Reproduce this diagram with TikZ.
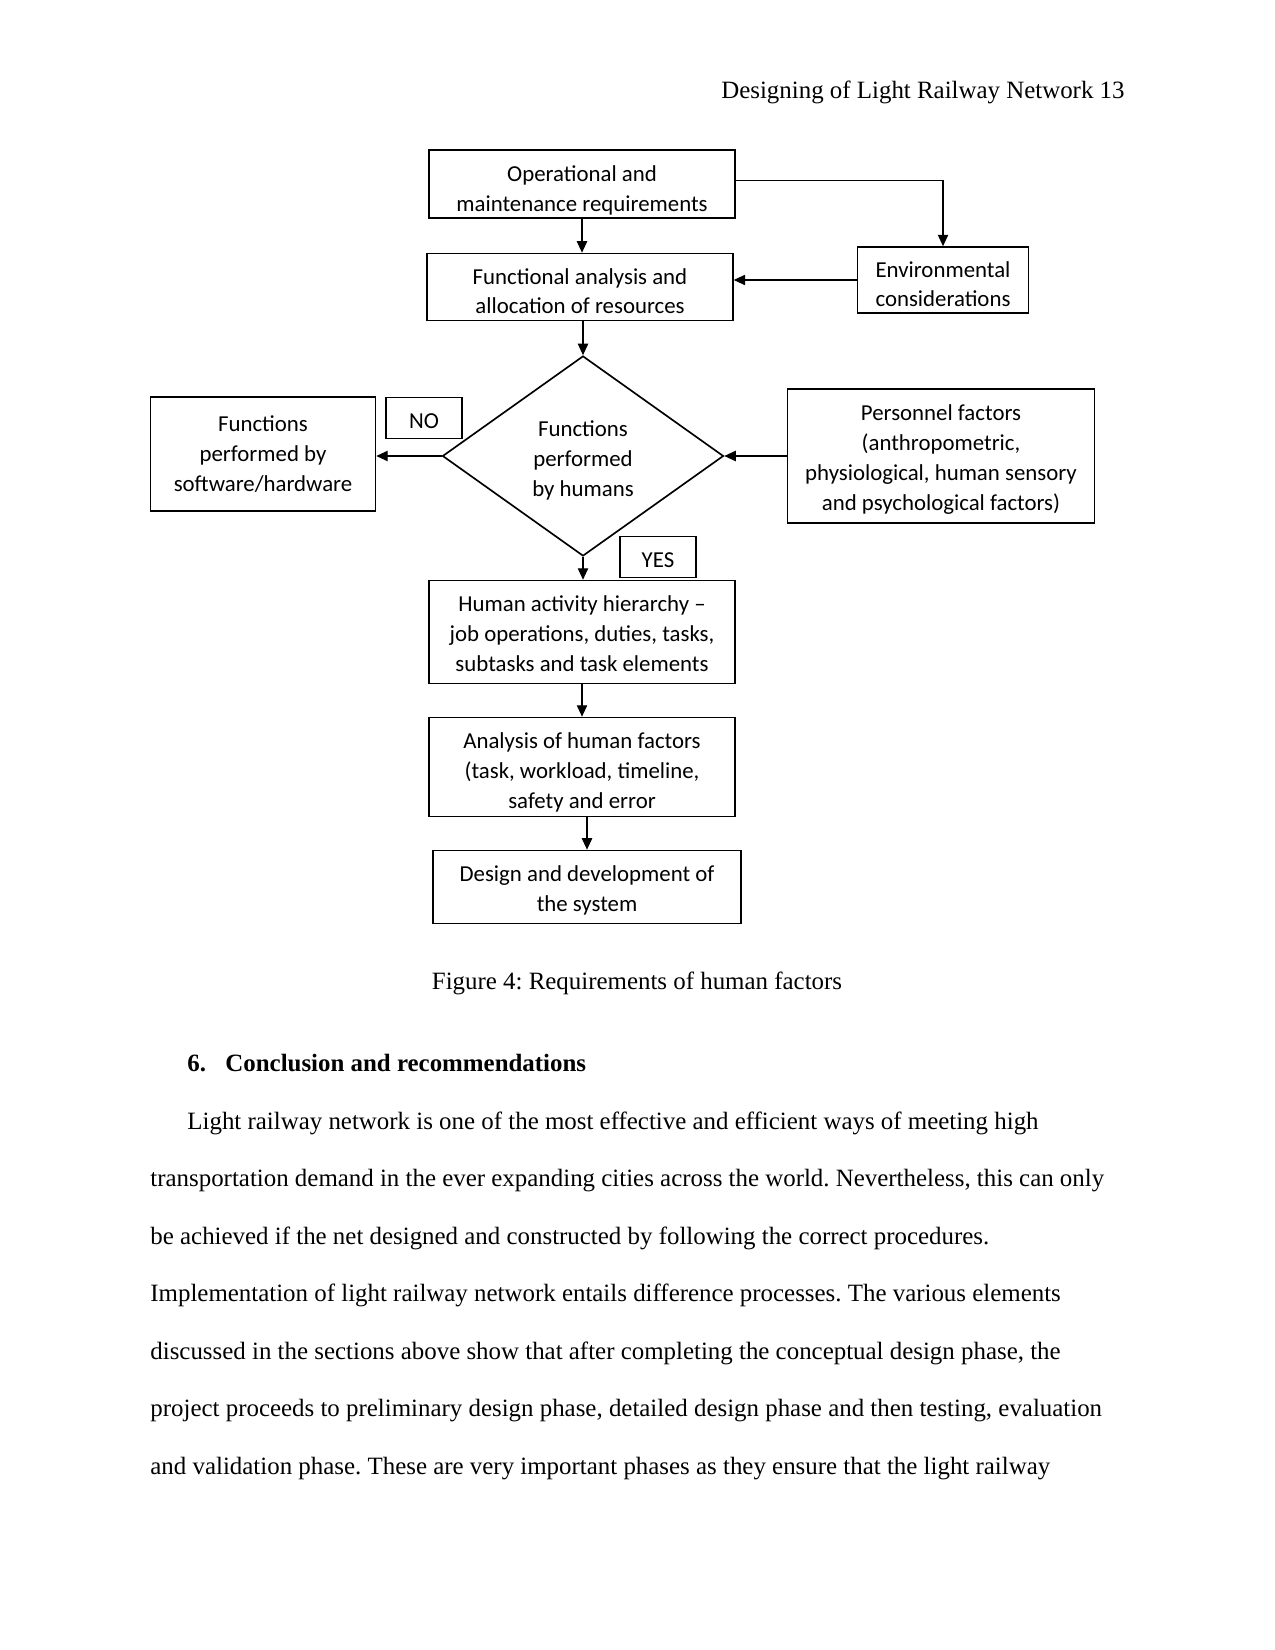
\documentclass[tikz,border=0pt]{standalone}
\usepackage{fontspec}
\setmainfont{Liberation Serif}
\newfontfamily\diagfont{Carlito}
\frenchspacing
\usetikzlibrary{shapes.geometric,arrows.meta}
\begin{document}
\begin{tikzpicture}[x=0.48183pt,y=-0.48183pt,
  box/.style={draw,line width=0.8pt,inner sep=0pt},
  bt/.style={align=center,inner sep=0pt,font=\diagfont\fontsize{11}{14.4}\selectfont},
  lbl/.style={draw,line width=0.8pt,inner sep=0pt,minimum width=36.6pt,minimum height=19.8pt},
  arr/.style={line width=0.5pt,-{Triangle[length=5.5pt,width=5pt]}},
  body/.style={anchor=base west,inner sep=0pt,font=\fontsize{12}{14}\selectfont}]
\useasboundingbox (0,0) rectangle (1275,1650);
\fill[white] (0,0) rectangle (1275,1650);
% header
\node[anchor=base east,inner sep=0pt,font=\fontsize{12}{14}\selectfont] (hdr) at (1125,99) {Designing of Light Railway Network 13};
% diagram
\node[box,minimum width=147.4pt,minimum height=32.8pt,label={[bt,yshift=-3pt]center:{Operational and\\maintenance requirements}}] (ops) at (582,184) {};
\node[box,minimum width=147.4pt,minimum height=32.3pt,label={[bt,yshift=-2pt]center:{Functional analysis and\\allocation of resources}}] (fun) at (580,287) {};
\node[box,minimum width=82.4pt,minimum height=31.8pt,label={[bt,yshift=-2pt]center:{Environmental\\considerations}}] (env) at (943,280) {};
\node[draw,line width=0.8pt,diamond,aspect=1.4,inner sep=0pt,minimum width=135.4pt,minimum height=96.4pt,label={[bt,yshift=-2pt]center:{Functions\\performed\\by humans}}] (dia) at (583,456) {};
\node[box,minimum width=108.4pt,minimum height=54.9pt,label={[bt]center:{Functions\\performed by\\software/hardware}}] (sw) at (263,454) {};
\node[lbl,label={[bt,yshift=-1.5pt]center:NO}] (no) at (424,418) {};
\node[box,minimum width=147.9pt,minimum height=64.6pt,label={[bt,yshift=-1.8pt]center:{Personnel factors\\(anthropometric,\\physiological, human sensory\\and psychological factors)}}] (pers) at (941,456) {};
\node[lbl,label={[bt,yshift=-1.5pt]center:YES}] (yes) at (658,557) {};
\node[box,minimum width=147.4pt,minimum height=49.6pt,label={[bt,yshift=-0.8pt]center:{Human activity hierarchy \textendash\\job operations, duties, tasks,\\subtasks and task elements}}] (hum) at (582,632) {};
\node[box,minimum width=147.4pt,minimum height=47.7pt,label={[bt,yshift=-2.5pt]center:{Analysis of human factors\\(task, workload, timeline,\\safety and error}}] (ana) at (582,767) {};
\node[box,minimum width=148.4pt,minimum height=35.2pt,label={[bt,yshift=-1.8pt]center:{Design and development of\\the system}}] (des) at (587,887) {};
% connectors
\draw[arr] (ops.south) -- (ops.south |- fun.north);
\draw[arr] ([yshift=1.5pt]ops.east) -| (env.north);
\draw[arr] (env.west) -- (env.west -| fun.east);
\draw[arr] (dia.north |- fun.south) -- (dia.north);
\draw[arr] (pers.west) -- (dia.east);
\draw[arr] (dia.west) -- (dia.west -| sw.east);
\draw[arr] (dia.south) -- (dia.south |- hum.north);
\draw[arr] (hum) -- (ana);
\draw[arr] (des.north |- ana.south) -- (des.north);
% caption and text
\node[anchor=base,inner sep=0pt,font=\fontsize{12}{14}\selectfont] (cap) at (637,989) {Figure 4: Requirements of human factors};
\node[body,font=\bfseries\fontsize{12}{14}\selectfont] (secn) at (187,1071) {6.};
\node[body,font=\bfseries\fontsize{12}{14}\selectfont] (sect) at (225,1071) {Conclusion and recommendations};
\node[body] (l1) at (187,1129) {Light railway network is one of the most effective and efficient ways of meeting high};
\node[body] (l2) at (150,1186) {transportation demand in the ever expanding cities across the world. Nevertheless, this can only};
\node[body] (l3) at (150,1244) {be achieved if the net designed and constructed by following the correct procedures.};
\node[body] (l4) at (150,1301) {Implementation of light railway network entails difference processes. The various elements};
\node[body] (l5) at (150,1359) {discussed in the sections above show that after completing the conceptual design phase, the};
\node[body] (l6) at (150,1416) {project proceeds to preliminary design phase, detailed design phase and then testing, evaluation};
\node[body] (l7) at (150,1474) {and validation phase. These are very important phases as they ensure that the light railway};
\end{tikzpicture}
\end{document}
